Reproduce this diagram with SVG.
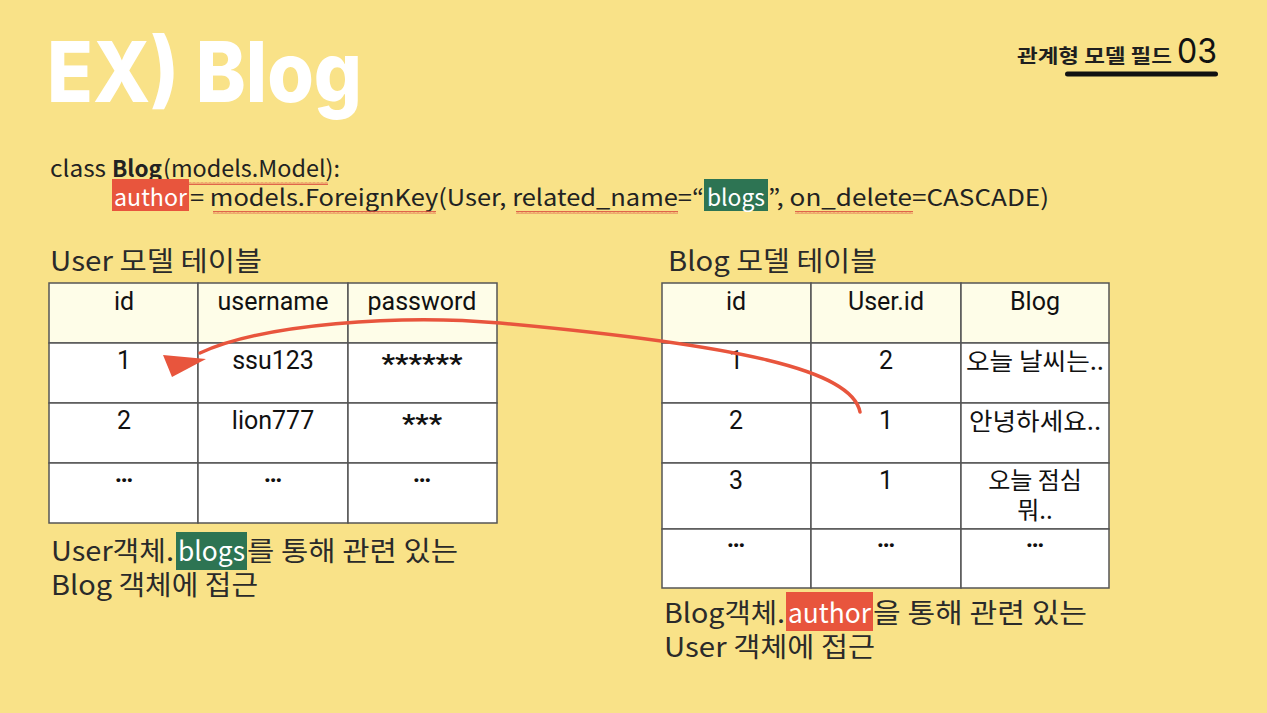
<svg xmlns="http://www.w3.org/2000/svg" width="1267" height="713" viewBox="0 0 1267 713">
<defs>
<style>
.kr{font-family:"Noto Sans CJK KR","Noto Sans",sans-serif;fill:#1f1f1f}
.code{font-family:"Noto Sans CJK KR","Noto Sans",sans-serif;font-size:23px;fill:#222}
.cell{fill:#ffffff;stroke:#555;stroke-width:1.5}
.head{fill:#fefde8;stroke:#555;stroke-width:1.5}
.tx{font-family:Roboto,"Noto Sans CJK KR",sans-serif;font-size:25px;fill:#111;text-anchor:middle}
.krc{font-family:"Noto Sans CJK KR",sans-serif;font-size:24px;fill:#111;text-anchor:middle}
.note{font-family:"Noto Sans CJK KR","Noto Sans",sans-serif;font-size:27px;fill:#2a2a2a}
.red{fill:#e8553d}
.green{fill:#2d7453}
.sq{fill:url(#squig)}
</style>
<pattern id="squig" x="0" y="0" width="4" height="3" patternUnits="userSpaceOnUse">
<path d="M0 2.5 L1 0.5 L2 2.5 L3 0.5 L4 2.5" fill="none" stroke="#d8453a" stroke-width="0.8"/>
</pattern>
</defs>
<rect width="1267" height="713" fill="#f9e288"/>

<g id="title">
<text x="47" y="102" font-family="Inter,'Liberation Sans',sans-serif" font-weight="800" font-size="84" fill="#ffffff" textLength="315" lengthAdjust="spacingAndGlyphs">EX) Blog</text>
</g>

<g id="section-tag">
<text x="1017" y="63" class="kr" font-size="19" font-weight="bold" textLength="155" lengthAdjust="spacingAndGlyphs">관계형 모델 필드</text>
<text x="1177" y="63" font-family="Inter,'Liberation Sans',sans-serif" font-size="34" fill="#111" textLength="40" lengthAdjust="spacingAndGlyphs">03</text>
<rect x="1065" y="71.5" width="153" height="5" rx="2.5" fill="#111"/>
</g>

<g id="code">
<text x="50" y="177" class="code" textLength="56" lengthAdjust="spacingAndGlyphs">class</text>
<text x="112" y="177" class="code" font-weight="bold" textLength="50" lengthAdjust="spacingAndGlyphs">Blog</text>
<text x="163" y="177" class="code" textLength="177" lengthAdjust="spacingAndGlyphs">(models.Model):</text>
<rect x="165" y="182" width="163" height="3" class="sq"/>
<rect x="112" y="179" width="77" height="32" class="red"/>
<text x="114" y="206" class="code" style="fill:#fff" textLength="73" lengthAdjust="spacingAndGlyphs">author</text>
<text x="190" y="206" class="code" textLength="514" lengthAdjust="spacingAndGlyphs">= models.ForeignKey(User, related_name=“</text>
<rect x="704" y="179" width="64" height="32" class="green"/>
<text x="707" y="206" class="code" style="fill:#fff" textLength="58" lengthAdjust="spacingAndGlyphs">blogs</text>
<text x="768" y="206" class="code" textLength="281" lengthAdjust="spacingAndGlyphs">”, on_delete=CASCADE)</text>
<rect x="213" y="211" width="223" height="3" class="sq"/>
<rect x="516" y="211" width="162" height="3" class="sq"/>
<rect x="795" y="211" width="118" height="3" class="sq"/>
</g>

<g id="user-table">
<text x="50" y="271" class="note" textLength="212" lengthAdjust="spacingAndGlyphs">User 모델 테이블</text>
<rect x="49" y="283" width="149" height="60" class="head"/>
<rect x="198" y="283" width="150" height="60" class="head"/>
<rect x="348" y="283" width="149" height="60" class="head"/>
<rect x="49" y="343" width="149" height="60" class="cell"/>
<rect x="198" y="343" width="150" height="60" class="cell"/>
<rect x="348" y="343" width="149" height="60" class="cell"/>
<rect x="49" y="403" width="149" height="60" class="cell"/>
<rect x="198" y="403" width="150" height="60" class="cell"/>
<rect x="348" y="403" width="149" height="60" class="cell"/>
<rect x="49" y="463" width="149" height="60" class="cell"/>
<rect x="198" y="463" width="150" height="60" class="cell"/>
<rect x="348" y="463" width="149" height="60" class="cell"/>
<text x="124" y="310" class="tx">id</text>
<text x="273" y="310" class="tx">username</text>
<text x="422" y="310" class="tx">password</text>
<text x="124" y="369" class="tx">1</text>
<text x="273" y="369" class="tx">ssu123</text>
<text x="422" y="373" class="tx" font-size="30" font-weight="bold" textLength="81" lengthAdjust="spacingAndGlyphs">******</text>
<text x="124" y="429" class="tx">2</text>
<text x="273" y="429" class="tx">lion777</text>
<text x="422" y="433" class="tx" font-size="30" font-weight="bold" textLength="40" lengthAdjust="spacingAndGlyphs">***</text>
<text x="124" y="482" class="tx" font-weight="bold">…</text>
<text x="273" y="482" class="tx" font-weight="bold">…</text>
<text x="422" y="482" class="tx" font-weight="bold">…</text>
</g>

<g id="blog-table">
<text x="668" y="271" class="note" textLength="209" lengthAdjust="spacingAndGlyphs">Blog 모델 테이블</text>
<rect x="662" y="283" width="149" height="60" class="head"/>
<rect x="811" y="283" width="150" height="60" class="head"/>
<rect x="961" y="283" width="148" height="60" class="head"/>
<rect x="662" y="343" width="149" height="60" class="cell"/>
<rect x="811" y="343" width="150" height="60" class="cell"/>
<rect x="961" y="343" width="148" height="60" class="cell"/>
<rect x="662" y="403" width="149" height="60" class="cell"/>
<rect x="811" y="403" width="150" height="60" class="cell"/>
<rect x="961" y="403" width="148" height="60" class="cell"/>
<rect x="662" y="463" width="149" height="66" class="cell"/>
<rect x="811" y="463" width="150" height="66" class="cell"/>
<rect x="961" y="463" width="148" height="66" class="cell"/>
<rect x="662" y="529" width="149" height="59" class="cell"/>
<rect x="811" y="529" width="150" height="59" class="cell"/>
<rect x="961" y="529" width="148" height="59" class="cell"/>
<text x="736" y="310" class="tx">id</text>
<text x="886" y="310" class="tx">User.id</text>
<text x="1035" y="310" class="tx">Blog</text>
<text x="736" y="369" class="tx">1</text>
<text x="886" y="369" class="tx">2</text>
<text x="1035" y="370" class="krc" textLength="138" lengthAdjust="spacingAndGlyphs">오늘 날씨는..</text>
<text x="736" y="429" class="tx">2</text>
<text x="886" y="429" class="tx">1</text>
<text x="1035" y="430" class="krc" textLength="132" lengthAdjust="spacingAndGlyphs">안녕하세요..</text>
<text x="736" y="489" class="tx">3</text>
<text x="886" y="489" class="tx">1</text>
<text x="1035" y="489" class="krc">오늘 점심</text>
<text x="1035" y="519" class="krc">뭐..</text>
<text x="736" y="547" class="tx" font-weight="bold">…</text>
<text x="886" y="547" class="tx" font-weight="bold">…</text>
<text x="1035" y="547" class="tx" font-weight="bold">…</text>
</g>

<g id="user-note">
<text x="51" y="561" class="note" textLength="123" lengthAdjust="spacingAndGlyphs">User객체.</text>
<rect x="176" y="532" width="71" height="38" class="green"/>
<text x="178" y="561" class="note" style="fill:#fff" textLength="67" lengthAdjust="spacingAndGlyphs">blogs</text>
<text x="247" y="561" class="note" textLength="211" lengthAdjust="spacingAndGlyphs">를 통해 관련 있는</text>
<text x="51" y="595" class="note" textLength="207" lengthAdjust="spacingAndGlyphs">Blog 객체에 접근</text>
</g>

<g id="blog-note">
<text x="664" y="623" class="note" textLength="121" lengthAdjust="spacingAndGlyphs">Blog객체.</text>
<rect x="786" y="592" width="87" height="39" class="red"/>
<text x="788" y="623" class="note" style="fill:#fff" textLength="83" lengthAdjust="spacingAndGlyphs">author</text>
<text x="873" y="623" class="note" textLength="214" lengthAdjust="spacingAndGlyphs">을 통해 관련 있는</text>
<text x="664" y="657" class="note" textLength="211" lengthAdjust="spacingAndGlyphs">User 객체에 접근</text>
</g>

<g id="connectors">
<path d="M860 412 C852 370 740 345 500 323 C400 314 262 324 200 353" fill="none" stroke="#e8553d" stroke-width="3.5" stroke-linecap="round"/>
<polygon points="163,355 172,377 206,359" fill="#e8553d"/>
</g>
</svg>
